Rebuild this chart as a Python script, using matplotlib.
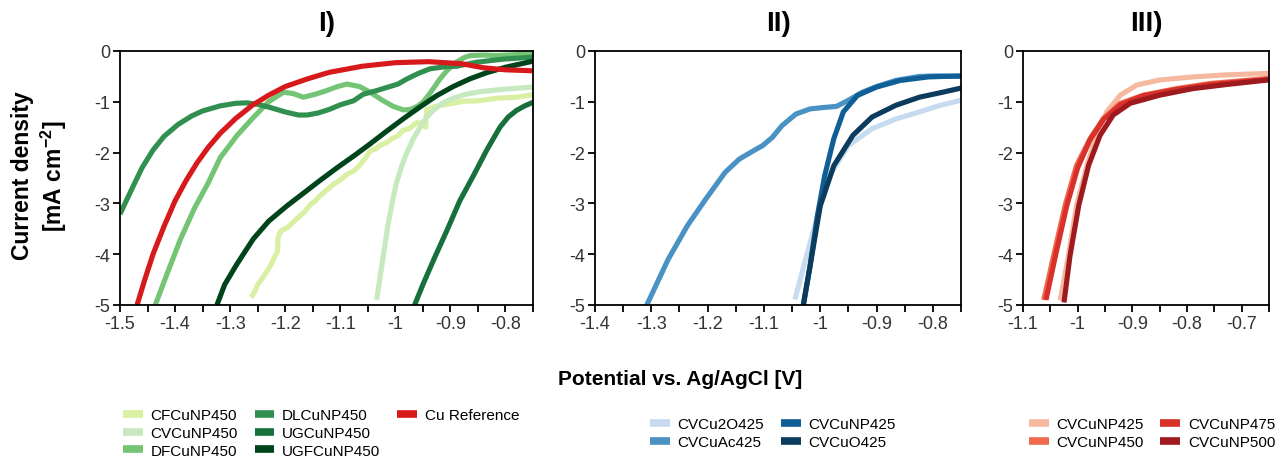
import numpy as np
import matplotlib.pyplot as plt
from matplotlib.lines import Line2D
from matplotlib.ticker import MultipleLocator, FuncFormatter

plt.rcParams['font.family'] = ['Liberation Sans', 'DejaVu Sans']
plt.rcParams['axes.unicode_minus'] = False
plt.rcParams['mathtext.fontset'] = 'custom'
plt.rcParams['mathtext.rm'] = 'Liberation Sans:bold'
plt.rcParams['mathtext.bf'] = 'Liberation Sans:bold'

# ---- panel I: support comparison (potential V, current density mA/cm2) ----
cf_x = [-1.262, -1.256, -1.25, -1.24, -1.228, -1.219, -1.214, -1.213, -1.209, -1.195,
        -1.179, -1.165, -1.155, -1.145, -1.137, -1.125, -1.113, -1.10, -1.088, -1.075,
        -1.064, -1.055, -1.046, -1.036, -1.028, -1.015, -1.004, -0.995, -0.986, -0.975,
        -0.961, -0.952, -0.945, -0.943, -0.93, -0.919, -0.90, -0.877, -0.85, -0.816,
        -0.78, -0.75]
cf_y = [-4.85, -4.75, -4.6, -4.45, -4.25, -4.05, -3.95, -3.68, -3.55, -3.47,
        -3.3, -3.17, -3.03, -2.95, -2.85, -2.74, -2.63, -2.54, -2.43, -2.36,
        -2.24, -2.12, -1.97, -1.93, -1.86, -1.80, -1.71, -1.67, -1.56, -1.53,
        -1.41, -1.42, -1.50, -1.15, -1.10, -1.07, -1.04, -0.99, -0.98, -0.93,
        -0.91, -0.86]
cv_x = [-1.034, -1.027, -1.02, -1.013, -1.005, -0.998, -0.988, -0.979, -0.967, -0.955,
        -0.943, -0.931, -0.915, -0.90, -0.875, -0.846, -0.80, -0.75]
cv_y = [-4.9, -4.4, -3.9, -3.4, -2.95, -2.6, -2.25, -2.0, -1.72, -1.5,
        -1.3, -1.17, -1.03, -0.95, -0.86, -0.80, -0.75, -0.71]
df_x = [-1.436, -1.415, -1.39, -1.365, -1.34, -1.318, -1.288, -1.258, -1.23, -1.203,
        -1.185, -1.167, -1.145, -1.125, -1.105, -1.088, -1.065, -1.046, -1.025, -1.004,
        -0.985, -0.973, -0.96, -0.949, -0.935, -0.919, -0.905, -0.889, -0.875, -0.864,
        -0.84, -0.816, -0.78, -0.75]
df_y = [-5.0, -4.4, -3.7, -3.1, -2.6, -2.1, -1.67, -1.31, -1.0, -0.81,
        -0.84, -0.91, -0.85, -0.78, -0.70, -0.65, -0.70, -0.81, -0.96, -1.09,
        -1.16, -1.15, -1.09, -1.0, -0.80, -0.55, -0.37, -0.22, -0.13, -0.09,
        -0.08, -0.09, -0.07, -0.06]
dl_x = [-1.5, -1.48, -1.46, -1.44, -1.42, -1.395, -1.37, -1.35, -1.318, -1.29,
        -1.27, -1.25, -1.228, -1.20, -1.176, -1.16, -1.14, -1.12, -1.10, -1.076,
        -1.058, -1.034, -1.016, -0.995, -0.979, -0.958, -0.937, -0.91, -0.889, -0.852,
        -0.804, -0.75]
dl_y = [-3.21, -2.75, -2.3, -1.95, -1.68, -1.45, -1.28, -1.18, -1.08, -1.03,
        -1.02, -1.05, -1.11, -1.2, -1.26, -1.26, -1.22, -1.15, -1.06, -0.98,
        -0.85, -0.78, -0.72, -0.65, -0.55, -0.44, -0.35, -0.31, -0.30, -0.22,
        -0.16, -0.12]
ug_x = [-0.965, -0.95, -0.93, -0.905, -0.883, -0.858, -0.834, -0.81, -0.795, -0.78,
        -0.765, -0.75]
ug_y = [-5.0, -4.6, -4.1, -3.5, -2.95, -2.45, -1.95, -1.5, -1.3, -1.17,
        -1.08, -1.01]
ugf_x = [-1.324, -1.31, -1.288, -1.258, -1.23, -1.197, -1.167, -1.137, -1.106, -1.076,
         -1.046, -1.016, -0.985, -0.955, -0.925, -0.895, -0.865, -0.835, -0.80, -0.775,
         -0.75]
ugf_y = [-5.0, -4.6, -4.2, -3.7, -3.35, -3.05, -2.8, -2.55, -2.3, -2.07,
         -1.83, -1.58, -1.33, -1.10, -0.88, -0.70, -0.55, -0.43, -0.32, -0.26,
         -0.20]
cu_x = [-1.469, -1.455, -1.44, -1.42, -1.40, -1.38, -1.36, -1.34, -1.318, -1.29,
        -1.26, -1.23, -1.20, -1.16, -1.12, -1.06, -1.0, -0.94, -0.88, -0.84,
        -0.80, -0.75]
cu_y = [-5.0, -4.5, -4.0, -3.45, -2.95, -2.55, -2.2, -1.9, -1.62, -1.33,
        -1.07, -0.87, -0.70, -0.55, -0.42, -0.30, -0.23, -0.21, -0.25, -0.33,
        -0.37, -0.39]

# ---- panel II: precursor comparison ----
cu2o_x = [-1.045, -1.026, -1.0, -0.980, -0.950, -0.908, -0.866, -0.824, -0.79, -0.75]
cu2o_y = [-4.89, -4.1, -3.05, -2.39, -1.86, -1.53, -1.34, -1.2, -1.08, -0.97]
ac_x = [-1.308, -1.27, -1.236, -1.203, -1.169, -1.144, -1.118, -1.102, -1.085, -1.068,
        -1.043, -1.018, -0.992, -0.971, -0.95, -0.925, -0.90, -0.866, -0.824, -0.79,
        -0.75]
ac_y = [-5.0, -4.1, -3.44, -2.91, -2.39, -2.13, -1.96, -1.86, -1.70, -1.47,
        -1.24, -1.14, -1.11, -1.09, -0.97, -0.81, -0.70, -0.58, -0.50, -0.49,
        -0.50]
np425_x = [-1.03, -1.018, -1.005, -0.992, -0.976, -0.959, -0.934, -0.90, -0.858, -0.808,
           -0.75]
np425_y = [-5.0, -4.23, -3.24, -2.45, -1.73, -1.20, -0.875, -0.71, -0.58, -0.51,
           -0.49]
o425_x = [-1.03, -1.018, -1.0, -0.976, -0.942, -0.908, -0.866, -0.824, -0.782, -0.75]
o425_y = [-5.0, -4.23, -3.05, -2.26, -1.66, -1.30, -1.07, -0.91, -0.81, -0.73]

# ---- panel III: calcination temperature ----
t425_x = [-1.032, -1.017, -1.002, -0.983, -0.965, -0.947, -0.922, -0.892, -0.85, -0.789,
          -0.728, -0.651]
t425_y = [-4.91, -4.03, -3.04, -2.25, -1.66, -1.20, -0.87, -0.67, -0.57, -0.51,
          -0.47, -0.44]
t450_x = [-1.062, -1.044, -1.023, -1.002, -0.977, -0.953, -0.922, -0.88, -0.819, -0.758,
          -0.651]
t450_y = [-4.9, -4.03, -3.04, -2.25, -1.72, -1.33, -1.03, -0.87, -0.74, -0.64,
          -0.54]
t475_x = [-1.058, -1.04, -1.02, -1.0, -0.977, -0.953, -0.922, -0.88, -0.82, -0.758,
          -0.651]
t475_y = [-4.9, -4.0, -3.05, -2.3, -1.74, -1.35, -1.06, -0.88, -0.76, -0.66,
          -0.56]
t500_x = [-1.025, -1.014, -0.998, -0.98, -0.959, -0.935, -0.904, -0.85, -0.789, -0.728,
          -0.651]
t500_y = [-4.95, -4.03, -3.04, -2.25, -1.66, -1.26, -1.03, -0.87, -0.74, -0.66,
          -0.57]

panels = [
    dict(title='I)', xlim=(-1.5, -0.75), pos=[120, 533],
         series=[('CFCuNP450', cf_x, cf_y, '#d9f0a3'),
                 ('CVCuNP450', cv_x, cv_y, '#c7e9c0'),
                 ('DFCuNP450', df_x, df_y, '#74c476'),
                 ('DLCuNP450', dl_x, dl_y, '#31904f'),
                 ('UGCuNP450', ug_x, ug_y, '#17703c'),
                 ('UGFCuNP450', ugf_x, ugf_y, '#00441b'),
                 ('Cu Reference', cu_x, cu_y, '#d7191c')],
         ncol=3, blanks=2, leg_center=321),
    dict(title='II)', xlim=(-1.4, -0.75), pos=[595, 961],
         series=[('CVCu2O425', cu2o_x, cu2o_y, '#c6dbef'),
                 ('CVCuAc425', ac_x, ac_y, '#4a92c4'),
                 ('CVCuNP425', np425_x, np425_y, '#0f5e96'),
                 ('CVCuO425', o425_x, o425_y, '#0b3c5d')],
         ncol=2, blanks=0, leg_center=773),
    dict(title='III)', xlim=(-1.1, -0.65), pos=[1023, 1269],
         series=[('CVCuNP425', t425_x, t425_y, '#f6b9a0'),
                 ('CVCuNP450', t450_x, t450_y, '#ef6a4c'),
                 ('CVCuNP475', t475_x, t475_y, '#d8302b'),
                 ('CVCuNP500', t500_x, t500_y, '#9e1a1e')],
         ncol=2, blanks=0, leg_center=1152),
]

W, H = 1284, 460
fig = plt.figure(figsize=(W / 100, H / 100), dpi=100)
top, bottom = 52, 306

fmt = FuncFormatter(lambda v, p: '%g' % round(v, 2))

for p in panels:
    x0, x1 = p['pos']
    ax = fig.add_axes([x0 / W, 1 - bottom / H, (x1 - x0) / W, (bottom - top) / H])
    for name, xs, ys, c in p['series']:
        ax.plot(xs, ys, color=c, lw=3.7, solid_capstyle='butt')
    ax.set_xlim(*p['xlim'])
    ax.set_ylim(-5, 0)
    ax.xaxis.set_major_locator(MultipleLocator(0.1))
    ax.xaxis.set_minor_locator(MultipleLocator(0.05))
    ax.xaxis.set_major_formatter(fmt)
    ax.yaxis.set_major_locator(MultipleLocator(1))
    ax.yaxis.set_major_formatter(fmt)
    ax.tick_params(which='both', direction='out', length=5, width=1.3,
                   labelsize=13, colors='black', labelcolor='#333333', pad=2)
    for s in ax.spines.values():
        s.set_linewidth(1.3)
    ax.set_title(p['title'], fontsize=20, fontweight='bold', pad=15)

    handles = [Line2D([], [], color=c, lw=5.5, solid_capstyle='butt')
               for name, xs, ys, c in p['series']]
    labels = [name for name, xs, ys, c in p['series']]
    # empty slots so that the last column holds only one entry
    for i in range(p['blanks']):
        handles.append(Line2D([], [], alpha=0))
        labels.append('')
    fig.legend(handles, labels, loc='center', ncol=p['ncol'],
               bbox_to_anchor=(p['leg_center'] / W, 1 - 434 / H),
               frameon=False, fontsize=11, handlelength=1.3, handletextpad=0.5,
               columnspacing=1.1, labelspacing=0.25, borderpad=0)

fig.text(40 / W, 1 - 176 / H, 'Current density\n[mA cm$^{-2}$]', rotation=90,
         ha='center', va='center', fontsize=16.5, fontweight='bold', multialignment='center')
fig.text(680 / W, 1 - 380 / H, 'Potential vs. Ag/AgCl [V]', ha='center', va='center',
         fontsize=15, fontweight='bold')

fig.savefig('out.png', dpi=100)
